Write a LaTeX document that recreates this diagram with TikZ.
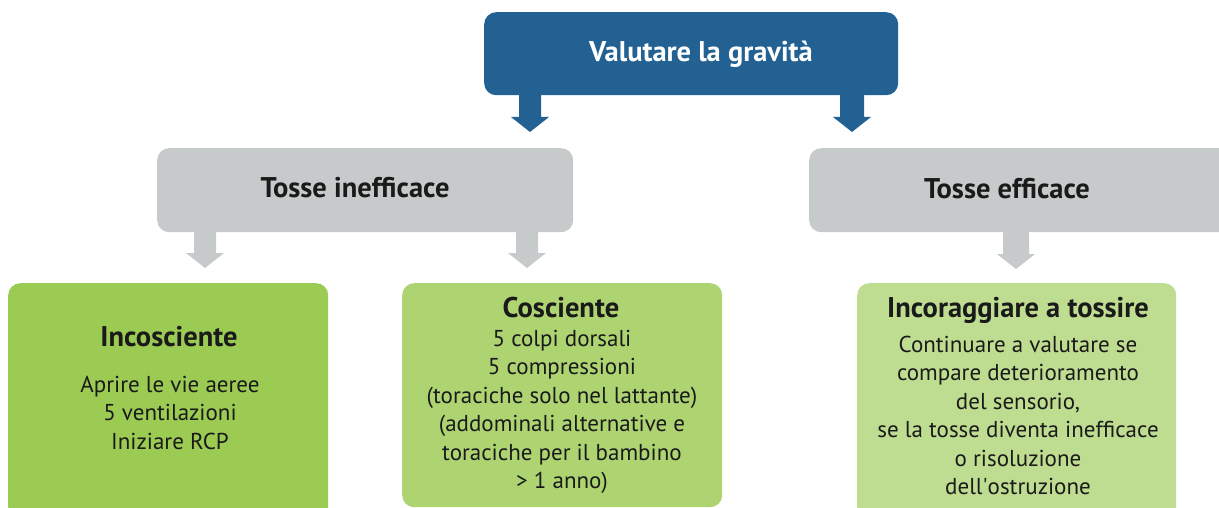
\documentclass[tikz,border=0pt]{standalone}
\usepackage{fontspec}
\setmainfont{PT Sans}
\usetikzlibrary{calc}
\definecolor{topblue}{HTML}{236192}
\definecolor{midgray}{HTML}{C7CACB}
\definecolor{greenA}{HTML}{9CCB54}
\definecolor{greenB}{HTML}{AED472}
\definecolor{greenC}{HTML}{BFDD91}
\definecolor{txt}{HTML}{1A1A1A}
\tikzset{
  boxshape/.style={rounded corners=12pt, inner sep=0pt, anchor=north west},
  titletext/.style={font=\bfseries\fontsize{28.5}{32}\selectfont, anchor=base, inner sep=0pt},
  bodytext/.style={font=\fontsize{23}{28.4}\selectfont, anchor=north, align=center, inner sep=0pt, text=txt},
}
\newcommand{\blockarr}[4]{% #1 parent node, #2 tip coordinate, #3 colour, #4 stem half width
  \fill[#3] ($(#2 |- #1.south)+(-#4,-2)$) -- ($(#2)+(-#4,-15)$) -- ($(#2)+(-19,-15)$) -- (#2)
    -- ($(#2)+(19,-15)$) -- ($(#2)+(#4,-15)$) -- ($(#2 |- #1.south)+(#4,-2)$) -- cycle;}
\begin{document}
\begin{tikzpicture}[x=1pt,y=-1pt]
\useasboundingbox (0,0) rectangle (1219,508);
\clip (0,0) rectangle (1219,508);
% boxes
\node (top) [boxshape, fill=topblue, minimum width=414pt, minimum height=83pt] at (484,12) {};
\node (ineff) [boxshape, fill=midgray, minimum width=416pt, minimum height=84pt] at (157,148) {};
\node (eff) [boxshape, fill=midgray, minimum width=430pt, minimum height=84pt] at (809,148) {};
\node (inco) [boxshape, fill=greenA, minimum width=320pt, minimum height=236pt] at (8,283) {};
\node (cosc) [boxshape, fill=greenB, minimum width=320pt, minimum height=224pt] at (402,283) {};
\node (incor) [boxshape, fill=greenC, minimum width=319pt, minimum height=236pt] at (857,283) {};
% arrows
\coordinate (t1) at (530,132);
\coordinate (t2) at (852,132);
\coordinate (t3) at (205,268);
\coordinate (t4) at (527,268);
\coordinate (t5) at (1016,269);
\blockarr{top}{t1}{topblue}{11}
\blockarr{top}{t2}{topblue}{12}
\blockarr{ineff}{t3}{midgray}{11}
\blockarr{ineff}{t4}{midgray}{11}
\blockarr{eff}{t5}{midgray}{13}
% texts
\node[titletext, text=white] at (701,62) {Valutare la gravità};
\node[titletext, text=txt] at (355,197) {Tosse inefficace};
\node[titletext, text=txt] at (1007,198) {Tosse efficace};
\node[titletext, text=txt] at (169,346) {Incosciente};
\node[bodytext] at (170,376) {Aprire le vie aeree\\5 ventilazioni\\Iniziare RCP};
\node[titletext, text=txt] at (561,317) {Cosciente};
\node[bodytext] at (562,330) {5 colpi dorsali\\5 compressioni\\(toraciche solo nel lattante)\\(addominali alternative e\\toraciche per il bambino\\> 1 anno)};
\node[titletext, text=txt] at (1018,317) {Incoraggiare a tossire};
\node[bodytext] at (1018,336) {Continuare a valutare se\\compare deterioramento\\del sensorio,\\se la tosse diventa inefficace\\o risoluzione\\dell\textquotesingle ostruzione};
\end{tikzpicture}
\end{document}
